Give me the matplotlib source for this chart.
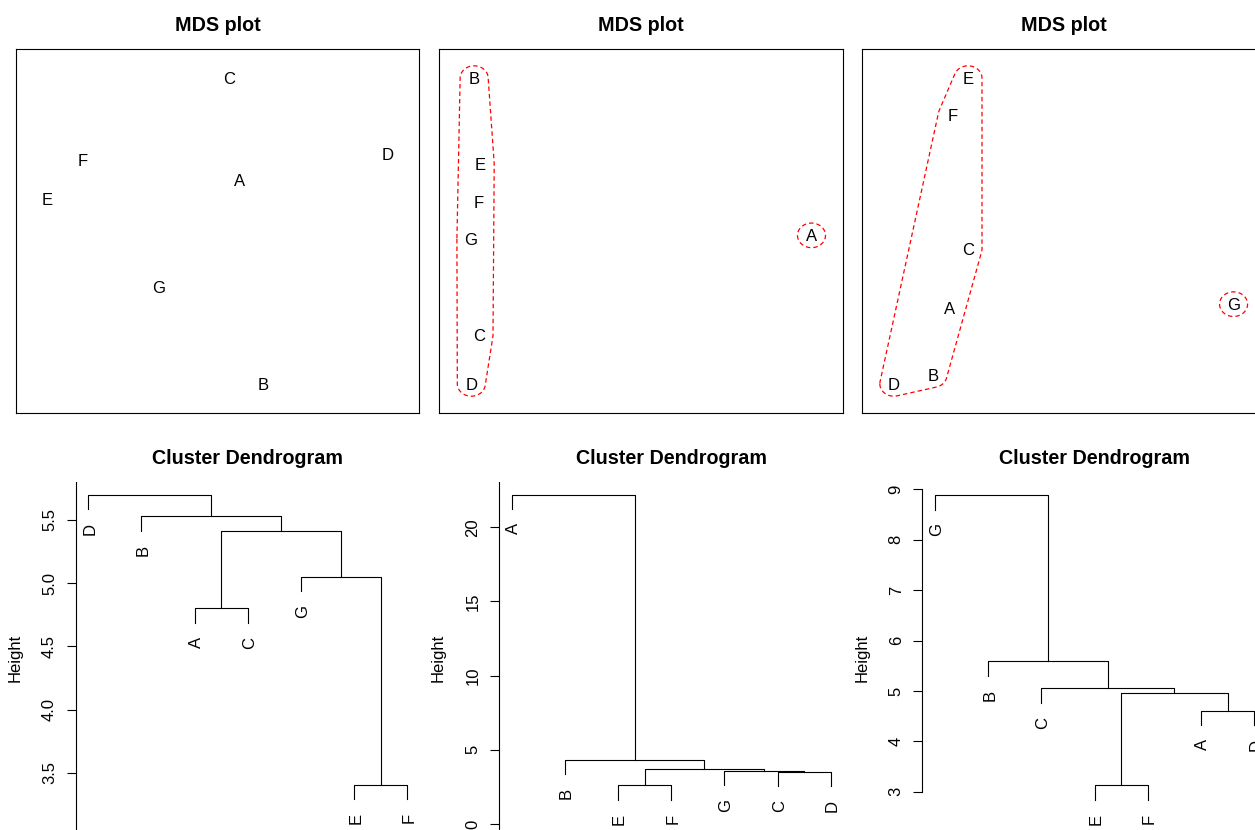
import numpy as np
import matplotlib
matplotlib.use("Agg")
import matplotlib.pyplot as plt

plt.rcParams["font.family"] = ["Liberation Sans", "DejaVu Sans"]
plt.rcParams["lines.scale_dashes"] = False

W, H, DPI = 1255, 830, 100

# ── data ──────────────────────────────────────────────────────────────────────
labels = ["A", "B", "C", "D", "E", "F", "G"]

# MDS coordinates (fraction of each plotting box)
mds1_x = [0.554, 0.614, 0.529, 0.921, 0.078, 0.165, 0.354]
mds1_y = [0.640, 0.079, 0.920, 0.712, 0.587, 0.694, 0.347]
mds2_x = [0.922, 0.087, 0.099, 0.080, 0.102, 0.098, 0.079]
mds2_y = [0.488, 0.920, 0.214, 0.080, 0.684, 0.581, 0.478]
mds3_x = [0.218, 0.176, 0.263, 0.079, 0.263, 0.224, 0.922]
mds3_y = [0.288, 0.104, 0.451, 0.080, 0.920, 0.819, 0.299]
clus2 = [2, 1, 1, 1, 1, 1, 1]
clus3 = [1, 1, 1, 1, 1, 1, 2]

# dendrograms: leaf order + merges (left, right, height); an int is an earlier merge
dend1_order = ["D", "B", "A", "C", "G", "E", "F"]
dend1_merges = [("E", "F", 3.405), ("A", "C", 4.80), ("G", 0, 5.05),
                (1, 2, 5.41), ("B", 3, 5.53), ("D", 4, 5.70)]
dend2_order = ["A", "B", "E", "F", "G", "C", "D"]
dend2_merges = [("E", "F", 2.63), ("C", "D", 3.53), ("G", 1, 3.59),
                (0, 2, 3.69), ("B", 3, 4.32), ("A", 4, 22.18)]
dend3_order = ["G", "B", "C", "E", "F", "A", "D"]
dend3_merges = [("E", "F", 3.13), ("A", "D", 4.61), (0, 1, 4.95),
                ("C", 2, 5.05), ("B", 3, 5.59), ("G", 4, 8.887)]
dend1_ticks = [3.5, 4.0, 4.5, 5.0, 5.5]
dend2_ticks = [0, 5, 10, 15, 20]
dend3_ticks = [3, 4, 5, 6, 7, 8, 9]

# ── layout (pixels: left, top, right, bottom) ─────────────────────────────────
MDS_BOXES = [(16, 49, 419, 413), (439, 49, 843, 413), (862, 49, 1265, 413)]
DEND_BOXES = [(75.5, 482, 420.2, 830), (498.9, 482, 843.6, 830),
              (922.2, 482, 1266.9, 830)]
DEND_YLIM = [(3.049, 5.800), (-0.40, 23.05), (2.24, 9.145)]
RX, RY = 14.0, 12.3


def px_rect(l, t, r, b):
    return [l / W, 1 - b / H, (r - l) / W, (b - t) / H]


def convex_hull(pts):
    pts = sorted(set(pts))

    def cross(o, a, b):
        return (a[0] - o[0]) * (b[1] - o[1]) - (a[1] - o[1]) * (b[0] - o[0])

    lower, upper = [], []
    for p in pts:
        while len(lower) >= 2 and cross(lower[-2], lower[-1], p) <= 0:
            lower.pop()
        lower.append(p)
    for p in reversed(pts):
        while len(upper) >= 2 and cross(upper[-2], upper[-1], p) <= 0:
            upper.pop()
        upper.append(p)
    return lower[:-1] + upper[:-1]


fig = plt.figure(figsize=(W / DPI, H / DPI), dpi=DPI)


def mds_panel(box, xs, ys, groups=None):
    ax = fig.add_axes(px_rect(*box))
    ax.set_xlim(0, 1)
    ax.set_ylim(0, 1)
    ax.set_xticks([])
    ax.set_yticks([])
    for s in ax.spines.values():
        s.set_linewidth(0.8)
    ax.set_title("MDS plot", fontsize=14.2, fontweight="bold", pad=13)
    for lab, x, y in zip(labels, xs, ys):
        ax.text(x, y, lab, ha="center", va="center_baseline", fontsize=12)
    if groups is None:
        return
    bw, bh = box[2] - box[0], box[3] - box[1]
    ang = np.linspace(0, 2 * np.pi, 72, endpoint=False)
    for g in sorted(set(groups)):
        pts = []
        for x, y, gg in zip(xs, ys, groups):
            if gg != g:
                continue
            for t in ang:
                pts.append((x * bw + RX * np.cos(t), y * bh + RY * np.sin(t)))
        hp = convex_hull(pts)
        hp.append(hp[0])
        ax.plot([p[0] / bw for p in hp], [p[1] / bh for p in hp],
                color="red", lw=0.9, dashes=(3.2, 2.2))


def dend_panel(box, order, merges, ticks, ylim, bounds=None):
    ax = fig.add_axes(px_rect(*box))
    n = len(order)
    ax.set_xlim(1 - 0.04 * (n - 1), n + 0.04 * (n - 1))
    ax.set_ylim(*ylim)
    heights = [m[2] for m in merges]
    hang = 0.05 * (max(heights) - min(heights))
    xpos = {lab: i + 1 for i, lab in enumerate(order)}
    node_x, node_h = [], []
    for a, b, h in merges:
        ends = []
        for c in (a, b):
            if isinstance(c, str):
                ends.append((xpos[c], h - hang, c))
            else:
                ends.append((node_x[c], node_h[c], None))
        (xa, ya, la), (xb, yb, lb) = ends
        ax.plot([xa, xa, xb, xb], [ya, h, h, yb], color="black", lw=0.8)
        for x, y, lab in ends:
            if lab is not None:
                ax.annotate(lab, (x, y), xytext=(0, -10), textcoords="offset points",
                            rotation=90, rotation_mode="anchor", ha="right",
                            va="center_baseline", fontsize=12, annotation_clip=False)
        node_x.append((xa + xb) / 2)
        node_h.append(h)

    for side in ("top", "right", "bottom"):
        ax.spines[side].set_visible(False)
    ax.spines["left"].set_linewidth(0.8)
    if bounds is not None:
        ax.spines["left"].set_bounds(*bounds)
    ax.set_xticks([])
    ax.set_yticks(ticks, labels=[f"{t:g}" if float(t).is_integer() and isinstance(t, int)
                                 else f"{t:.1f}" for t in ticks])
    ax.tick_params(axis="y", length=6.3, width=0.8, pad=7, labelsize=12)
    for lbl in ax.get_yticklabels():
        lbl.set_rotation(90)
        lbl.set_va("center")
    ax.set_title("Cluster Dendrogram", fontsize=14.2, fontweight="bold", pad=13)
    ax.set_ylabel("Height", fontsize=12)
    ax.yaxis.set_label_coords((box[0] - 53) / W, 1 - 658 / H, transform=fig.transFigure)


mds_panel(MDS_BOXES[0], mds1_x, mds1_y)
mds_panel(MDS_BOXES[1], mds2_x, mds2_y, clus2)
mds_panel(MDS_BOXES[2], mds3_x, mds3_y, clus3)

dend_panel(DEND_BOXES[0], dend1_order, dend1_merges, dend1_ticks, DEND_YLIM[0])
dend_panel(DEND_BOXES[1], dend2_order, dend2_merges, dend2_ticks, DEND_YLIM[1])
dend_panel(DEND_BOXES[2], dend3_order, dend3_merges, dend3_ticks, DEND_YLIM[2],
           bounds=(3, 9))

fig.savefig("out.png", dpi=DPI)
